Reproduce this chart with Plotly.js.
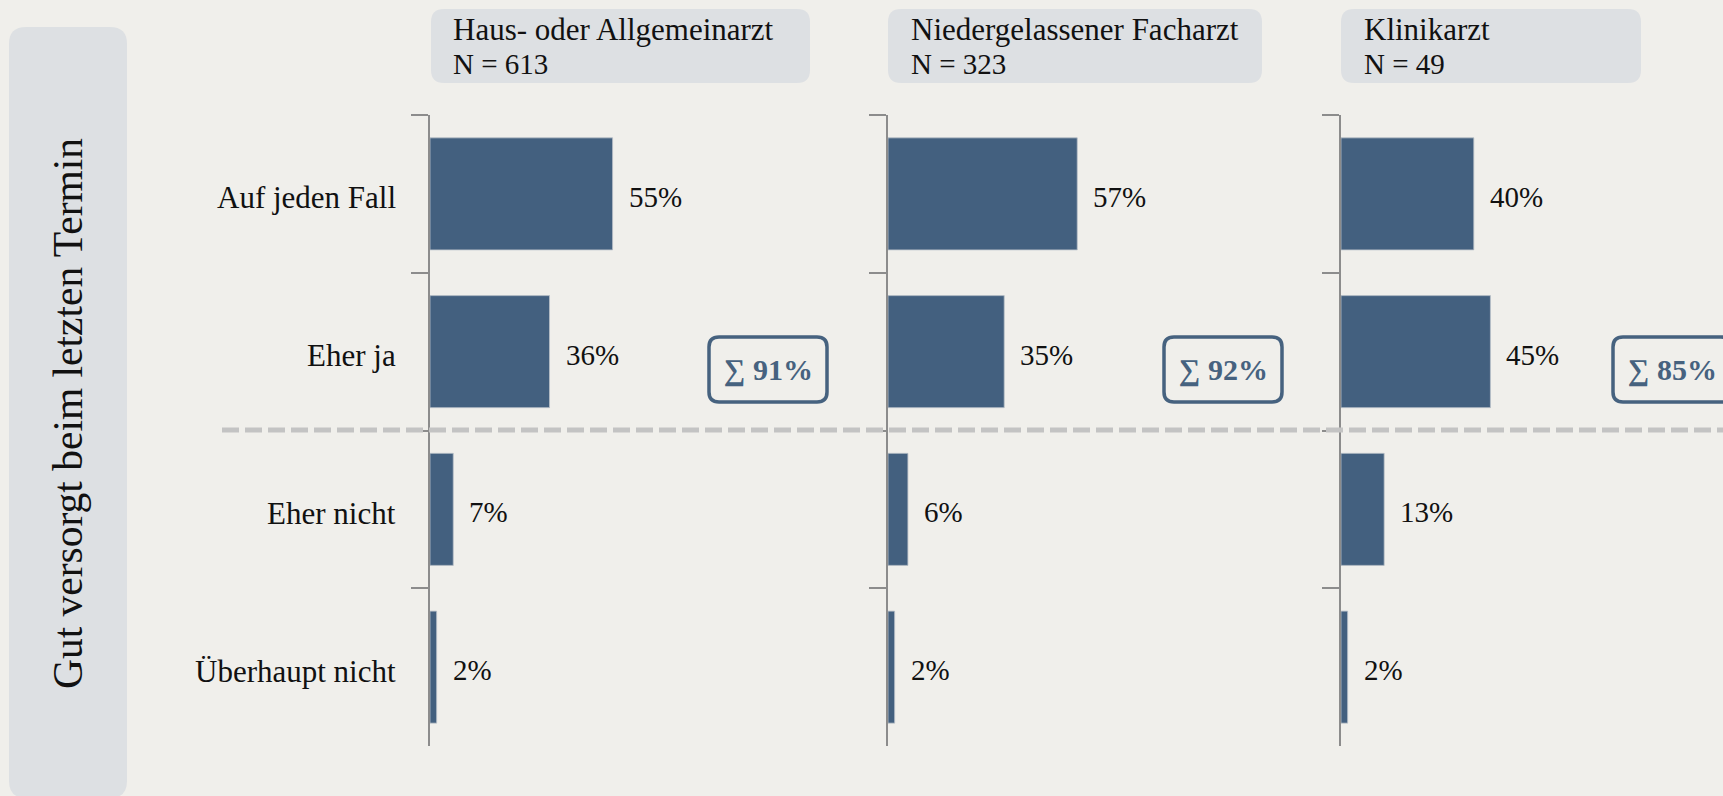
<!DOCTYPE html>
<html>
<head>
<meta charset="utf-8">
<script src="https://cdn.plot.ly/plotly-3.0.1.min.js"></script>
<style>
  html, body { margin: 0; padding: 0; background: #f0efeb; }
  #chart { width: 1723px; height: 796px; }
</style>
</head>
<body>
<div id="chart"></div>
<script>
// ---------- data ----------
const categories = ["Auf jeden Fall", "Eher ja", "Eher nicht", "Überhaupt nicht"];
const groupNames = ["Haus- oder Allgemeinarzt", "Niedergelassener Facharzt", "Klinikarzt"];
const groupN = [613, 323, 49];
const valuesHausarzt = [55, 36, 7, 2];
const valuesFacharzt = [57, 35, 6, 2];
const valuesKlinik = [40, 45, 13, 2];
const sideTitle = "Gut versorgt beim letzten Termin";

// ---------- layout helpers ----------
const W = 1723, H = 796;
const FONT = "Liberation Serif, Times New Roman, serif";
const BAR = "#43607f";
const AX = "#8c8c8c";
const px = v => v / W;
const py = v => 1 - v / H;

function rrect(x0, y0, x1, y1, r) {
  const P = (x, y) => px(x).toFixed(5) + "," + py(y).toFixed(5);
  return "M" + P(x0 + r, y0) + " L" + P(x1 - r, y0) + " Q" + P(x1, y0) + " " + P(x1, y0 + r) +
    " L" + P(x1, y1 - r) + " Q" + P(x1, y1) + " " + P(x1 - r, y1) +
    " L" + P(x0 + r, y1) + " Q" + P(x0, y1) + " " + P(x0, y1 - r) +
    " L" + P(x0, y0 + r) + " Q" + P(x0, y0) + " " + P(x0 + r, y0) + " Z";
}

const allValues = [valuesHausarzt, valuesFacharzt, valuesKlinik];
const axisStarts = [430, 888, 1341];   // px
const pxPerUnit = 3.32;
const xMax = 100;
const plotTop = 115, plotBottom = 746;
const yDomain = [py(plotBottom), py(plotTop)];
const headerBoxes = [[431, 9, 810, 83], [888, 9, 1262, 83], [1341, 9, 1641, 83]];
const sumCenters = [768, 1223, 1672];
const LABEL_SIZE = 31;
const VALUE_SIZE = 29;

const traces = [];
const layout = {
  width: W, height: H,
  margin: { l: 0, r: 0, t: 0, b: 0, pad: 0 },
  paper_bgcolor: "#f0efeb",
  plot_bgcolor: "rgba(0,0,0,0)",
  showlegend: false,
  bargap: 0.29,
  font: { family: FONT, size: 29, color: "#111111" },
  shapes: [],
  annotations: []
};

// side box + title
layout.shapes.push({ type: "path", xref: "paper", yref: "paper", layer: "below",
  path: rrect(9, 27, 127, 798, 17), fillcolor: "#dde0e3", line: { width: 0 } });
layout.annotations.push({ xref: "paper", yref: "paper", x: px(68), y: py(414),
  xanchor: "center", yanchor: "middle", textangle: -90, showarrow: false,
  text: sideTitle, font: { family: FONT, size: 41.5, color: "#111111" } });

// dashed separator
layout.shapes.push({ type: "line", xref: "paper", yref: "paper", layer: "above",
  x0: px(222), x1: 1, y0: py(430), y1: py(430),
  line: { color: "#c3c3c3", width: 5, dash: "17px,6px" } });

allValues.forEach((vals, i) => {
  const n = i + 1;
  const xa = n === 1 ? "x" : "x" + n;
  const ya = n === 1 ? "y" : "y" + n;
  const xKey = n === 1 ? "xaxis" : "xaxis" + n;
  const yKey = n === 1 ? "yaxis" : "yaxis" + n;
  const d0 = axisStarts[i];
  const d1 = d0 + pxPerUnit * xMax;

  traces.push({
    type: "bar", orientation: "h",
    x: vals, y: categories,
    xaxis: xa, yaxis: ya,
    marker: { color: BAR, line: { color: "#b9c0c8", width: 0.8 } },
    hoverinfo: "skip", cliponaxis: false
  });

  layout[xKey] = {
    domain: [px(d0), px(d1)], range: [0, xMax], anchor: ya,
    visible: false, fixedrange: true
  };
  layout[yKey] = {
    domain: yDomain, anchor: xa, type: "category",
    categoryorder: "array", categoryarray: categories,
    range: [3.5, -0.5],
    tickson: "boundaries", ticks: "outside", ticklen: 17, tickwidth: 2, tickcolor: AX,
    showline: true, linecolor: AX, linewidth: 2,
    showgrid: false, zeroline: false,
    showticklabels: false,
    fixedrange: true
  };

  // category labels (first panel only)
  if (n === 1) {
    categories.forEach(cat => {
      layout.annotations.push({
        xref: "paper", yref: ya, x: px(d0 - 32), y: cat,
        xanchor: "right", yanchor: "middle", yshift: -4, showarrow: false,
        text: cat, font: { family: FONT, size: LABEL_SIZE, color: "#111111" }
      });
    });
  }

  // value labels
  vals.forEach((v, k) => {
    layout.annotations.push({
      xref: xa, yref: ya, x: v, y: categories[k],
      xanchor: "left", yanchor: "middle", xshift: 14, yshift: -3, showarrow: false,
      text: v + "%", font: { family: FONT, size: VALUE_SIZE, color: "#111111" }
    });
  });

  // header box + text
  const hb = headerBoxes[i];
  layout.shapes.push({ type: "path", xref: "paper", yref: "paper", layer: "below",
    path: rrect(hb[0], hb[1], hb[2], hb[3], 13), fillcolor: "#dde0e3", line: { width: 0 } });
  layout.annotations.push({ xref: "paper", yref: "paper", x: px(d0 + 21), y: py(30),
    xanchor: "left", yanchor: "middle", showarrow: false, align: "left",
    text: groupNames[i], font: { family: FONT, size: LABEL_SIZE, color: "#111111" } });
  layout.annotations.push({ xref: "paper", yref: "paper", x: px(d0 + 21), y: py(64),
    xanchor: "left", yanchor: "middle", showarrow: false, align: "left",
    text: "N = " + groupN[i], font: { family: FONT, size: 29, color: "#111111" } });

  // sum box
  const sum = vals[0] + vals[1];
  const c = sumCenters[i];
  layout.shapes.push({ type: "path", xref: "paper", yref: "paper", layer: "above",
    path: rrect(c - 59, 337, c + 59, 402, 10), fillcolor: "rgba(0,0,0,0)",
    line: { color: "#46627f", width: 3.5 } });
  layout.annotations.push({ xref: "paper", yref: "paper", x: px(c), y: py(370),
    xanchor: "center", yanchor: "middle", showarrow: false,
    text: "<b>∑ " + sum + "%</b>", font: { family: FONT, size: 30, color: "#46627f" } });
});

Plotly.newPlot("chart", traces, layout, { staticPlot: true, displayModeBar: false });
</script>
</body>
</html>
